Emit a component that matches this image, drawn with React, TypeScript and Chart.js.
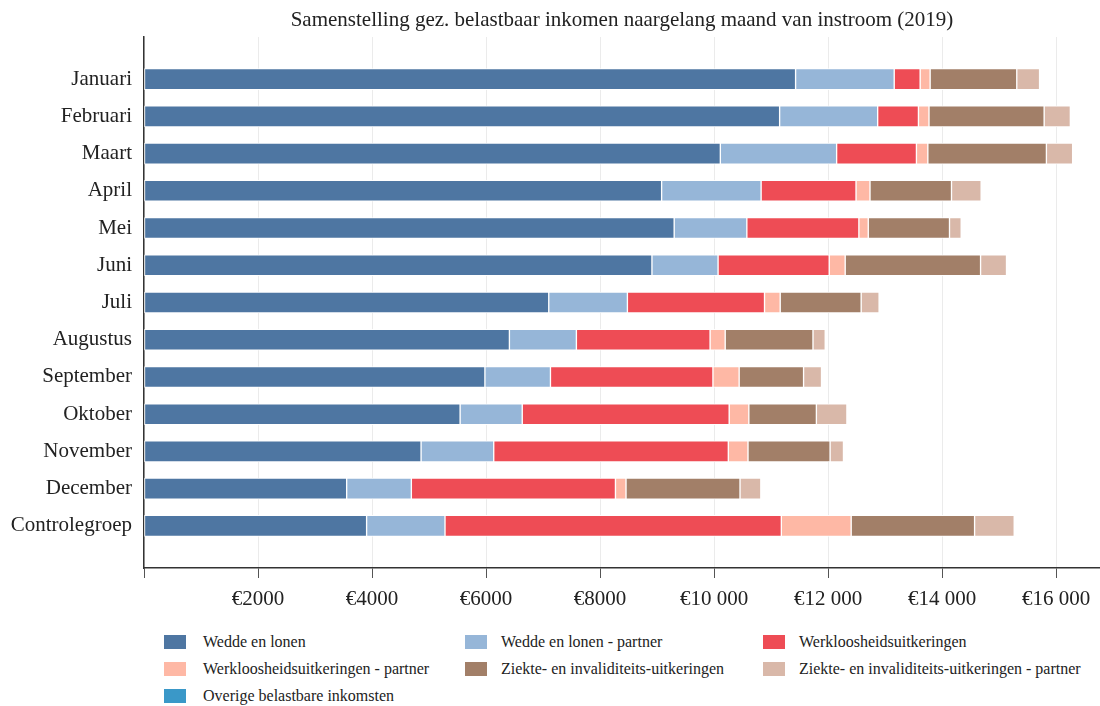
import React, { useEffect, useRef } from 'react';
import { Chart, registerables } from 'chart.js';

Chart.register(...registerables);

const FONT = '"Liberation Serif", "Times New Roman", Times, serif';

const TITLE = 'Samenstelling gez. belastbaar inkomen naargelang maand van instroom (2019)';

const months = [
  'Januari', 'Februari', 'Maart', 'April', 'Mei', 'Juni', 'Juli',
  'Augustus', 'September', 'Oktober', 'November', 'December', 'Controlegroep',
];

const seriesLabels = [
  'Wedde en lonen',
  'Wedde en lonen - partner',
  'Werkloosheidsuitkeringen',
  'Werkloosheidsuitkeringen - partner',
  'Ziekte- en invaliditeits-uitkeringen',
  'Ziekte- en invaliditeits-uitkeringen - partner',
  'Overige belastbare inkomsten',
];

const weddeEnLonen = [11430, 11150, 10110, 9080, 9300, 8910, 7100, 6410, 5980, 5545, 4860, 3555, 3905];
const weddeEnLonenPartner = [1730, 1720, 2040, 1745, 1275, 1160, 1380, 1175, 1150, 1090, 1275, 1135, 1375];
const werkloosheid = [455, 715, 1400, 1665, 1965, 1950, 2405, 2345, 2850, 3630, 4115, 3580, 5900];
const werkloosheidPartner = [175, 185, 200, 245, 165, 280, 275, 265, 460, 345, 345, 185, 1225];
const ziekte = [1520, 2020, 2080, 1430, 1425, 2375, 1420, 1540, 1130, 1185, 1440, 2000, 2165];
const ziektePartner = [400, 460, 460, 520, 205, 455, 315, 215, 315, 535, 235, 365, 695];
const overige = [0, 0, 0, 0, 0, 0, 0, 0, 0, 0, 0, 0, 0];

const seriesValues = [
  weddeEnLonen, weddeEnLonenPartner, werkloosheid, werkloosheidPartner,
  ziekte, ziektePartner, overige,
];

const seriesColors = ['#4E76A2', '#96B6D8', '#EE4C55', '#FEB8A5', '#A27F68', '#D9B8A9', '#3A98C8'];

const xTickValues = [0, 2000, 4000, 6000, 8000, 10000, 12000, 14000, 16000];
const X_MAX = 16770;

function euro(v: number): string {
  if (v >= 10000) {
    const th = Math.floor(v / 1000);
    const rest = String(v % 1000).padStart(3, '0');
    return '€' + th + ' ' + rest;
  }
  return '€' + v;
}

const LEGEND_BOX_X = [164, 465, 763];
const LEGEND_TEXT_X = [203, 501, 799];
const LEGEND_ROW_Y = [642, 669, 696];

export default function App() {
  const ref = useRef<HTMLCanvasElement | null>(null);

  useEffect(() => {
    if (!ref.current) return;
    const titlePlugin = {
      id: 'areaTitle',
      afterDraw(chart: any) {
        const { ctx, chartArea } = chart;
        ctx.save();
        ctx.font = `21px ${FONT}`;
        ctx.fillStyle = '#222';
        ctx.textAlign = 'center';
        ctx.textBaseline = 'middle';
        ctx.fillText(TITLE, (chartArea.left + chartArea.right) / 2, 20);
        ctx.restore();
      },
    };

    const chart = new Chart(ref.current, {
      type: 'bar',
      data: {
        datasets: seriesLabels.map((label, s) => ({
          label,
          data: seriesValues[s].map((v, i) => ({ x: v, y: i })),
          backgroundColor: seriesColors[s],
          borderColor: 'rgba(255,255,255,0.95)',
          borderWidth: 1,
          borderSkipped: false,
          barThickness: 21,
        })),
      },
      options: {
        indexAxis: 'y',
        animation: false,
        responsive: true,
        maintainAspectRatio: false,
        layout: { padding: { top: 37, left: 0, right: 0, bottom: 0 } },
        plugins: {
          legend: { display: false },
          title: { display: false },
          tooltip: { enabled: false },
        },
        scales: {
          x: {
            type: 'linear',
            stacked: true,
            position: 'bottom',
            min: 0,
            max: X_MAX,
            offset: false,
            afterFit: (s: any) => { s.height = 615 - 568; },
            afterBuildTicks: (s: any) => { s.ticks = xTickValues.map((value) => ({ value })); },
            grid: { color: '#ebebeb', tickColor: '#555', tickLength: 10, lineWidth: 1, offset: false },
            border: { color: '#333', width: 1.5 },
            ticks: {
              autoSkip: false,
              maxRotation: 0,
              padding: 9,
              color: '#222',
              font: { family: FONT, size: 21 },
              callback: (v: any) => (Number(v) === 0 ? '' : euro(Number(v))),
            },
          },
          y: {
            type: 'linear',
            stacked: true,
            reverse: true,
            offset: false,
            min: -1.13,
            max: months.length - 1 + 1.13,
            afterFit: (s: any) => { s.width = 144; },
            afterBuildTicks: (s: any) => { s.ticks = months.map((_, i) => ({ value: i })); },
            grid: { display: true, color: 'rgba(0,0,0,0)', drawTicks: false, offset: false },
            border: { color: '#333', width: 1.5 },
            ticks: {
              padding: 12,
              autoSkip: false,
              color: '#222',
              font: { family: FONT, size: 21 },
              callback: (v: any) => months[Number(v)] ?? '',
            },
          },
        },
      } as any,
      plugins: [titlePlugin],
    });
    return () => chart.destroy();
  }, []);

  return (
    <div style={{ position: 'absolute', left: 0, top: 0, width: 1100, height: 706, background: '#fff' }}>
      <div style={{ position: 'absolute', left: 0, top: 0, width: 1100, height: 615 }}>
        <canvas ref={ref} />
      </div>
      {seriesLabels.map((label, i) => {
        const col = i % 3;
        const row = Math.floor(i / 3);
        const cy = LEGEND_ROW_Y[row];
        return (
          <React.Fragment key={label}>
            <div
              style={{
                position: 'absolute',
                left: LEGEND_BOX_X[col],
                top: cy - 7,
                width: 22,
                height: 14,
                background: seriesColors[i],
                boxShadow: '0 0 0 1px rgba(255,255,255,0.6)',
              }}
            />
            <div
              style={{
                position: 'absolute',
                left: LEGEND_TEXT_X[col],
                top: cy - 12,
                height: 24,
                lineHeight: '24px',
                fontFamily: FONT,
                fontSize: 16,
                color: '#222',
                whiteSpace: 'nowrap',
              }}
            >
              {label}
            </div>
          </React.Fragment>
        );
      })}
    </div>
  );
}
